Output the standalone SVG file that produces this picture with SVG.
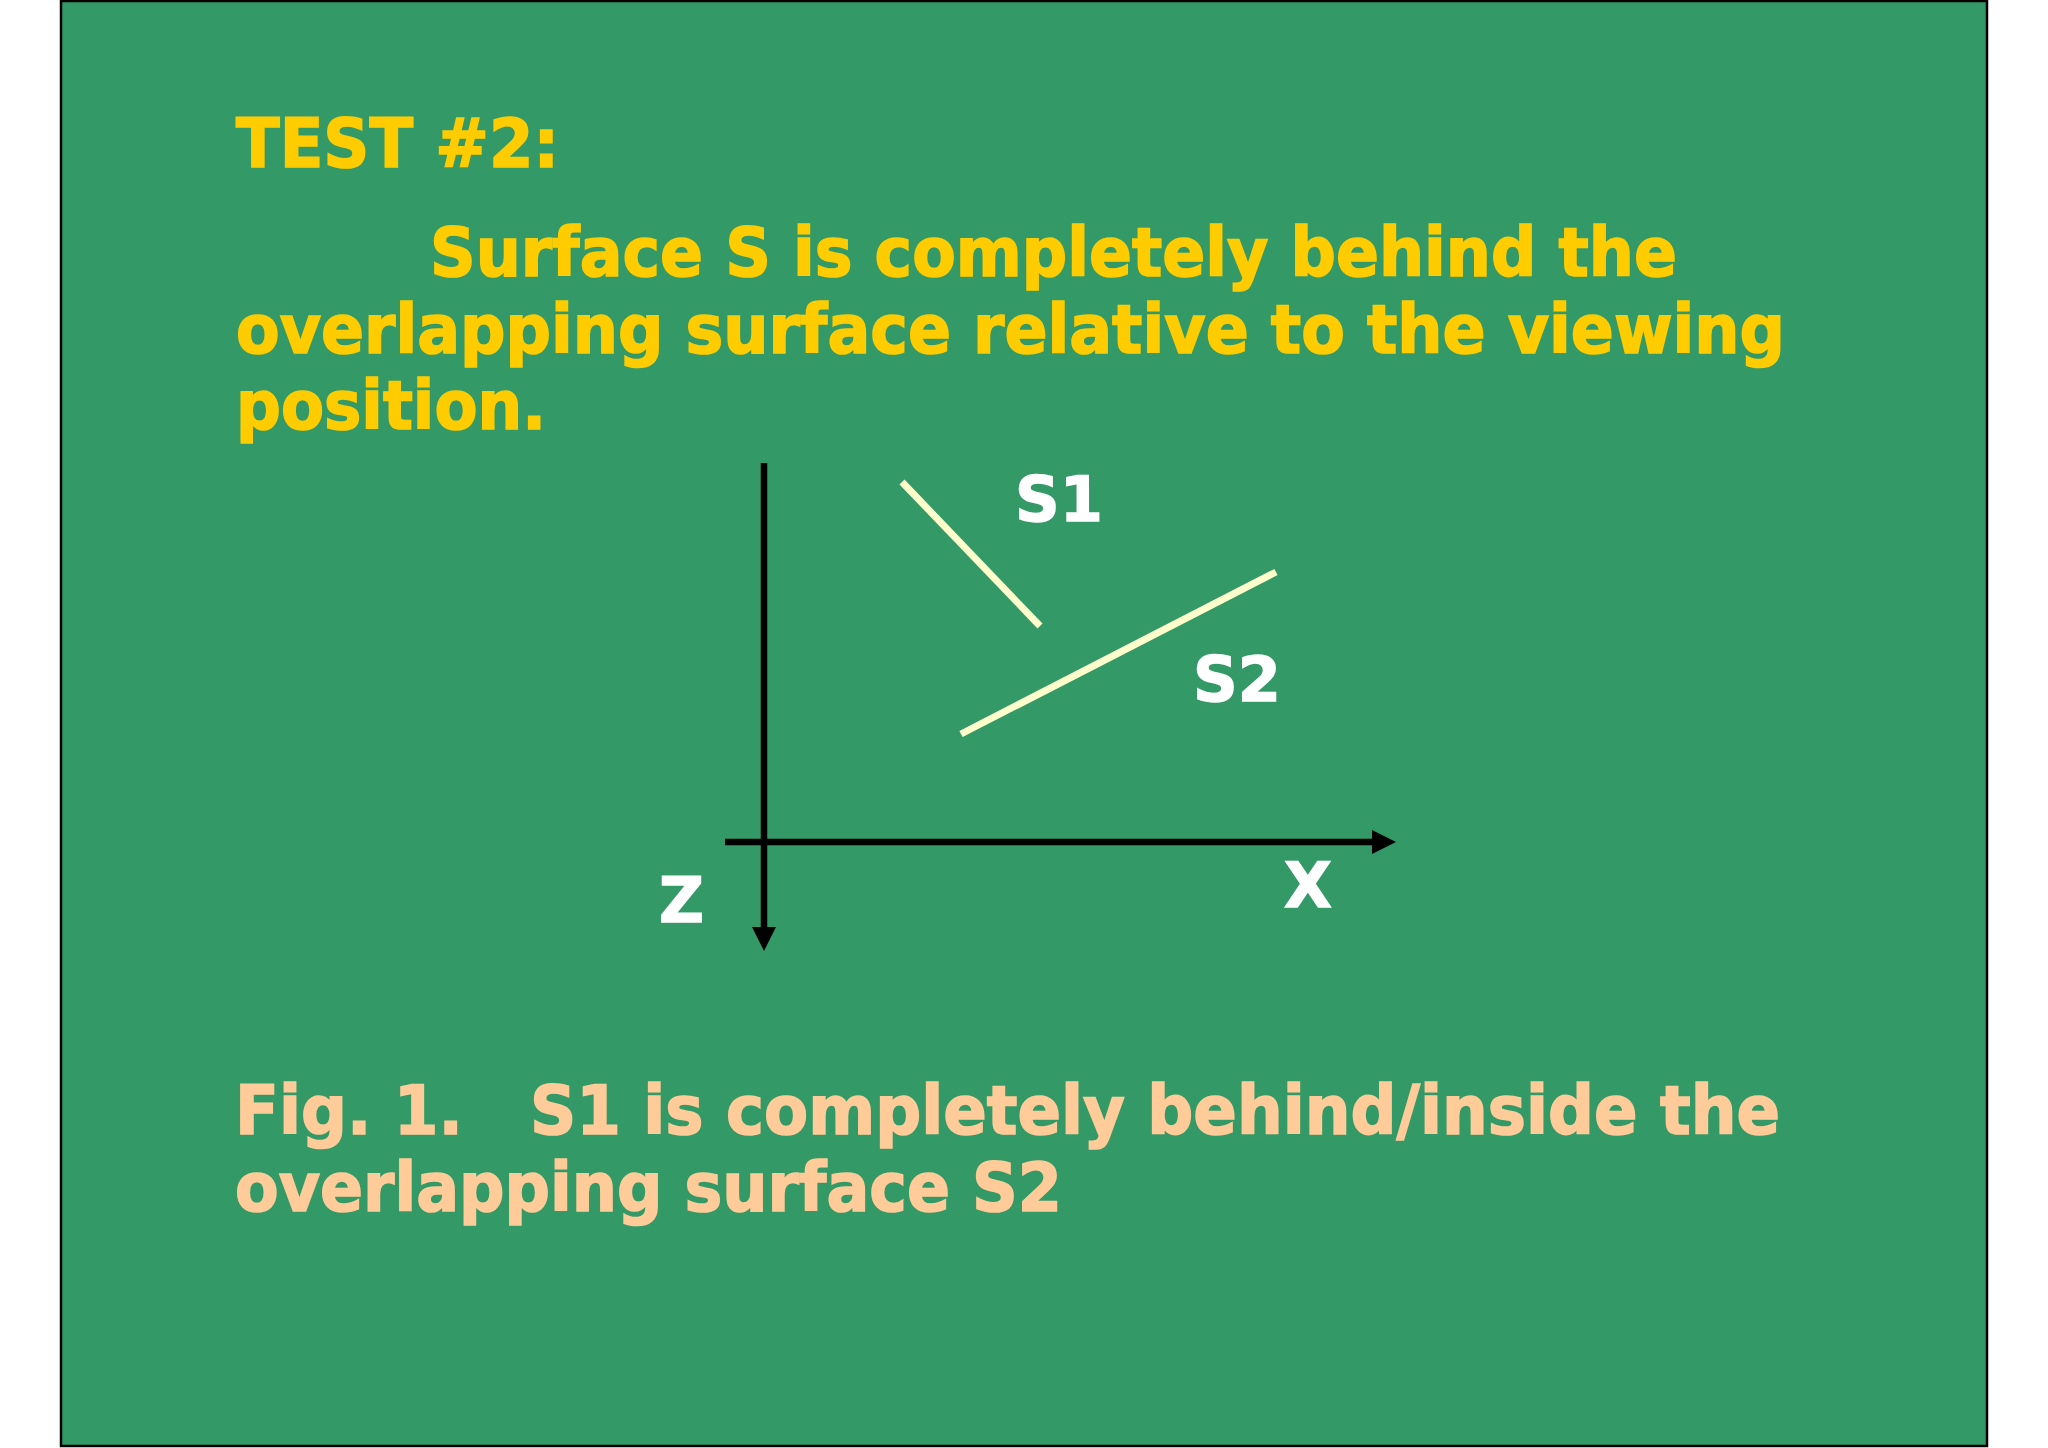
<svg xmlns="http://www.w3.org/2000/svg" width="2048" height="1448" viewBox="0 0 2048 1448">
<style>
.h{font-family:"DejaVu Sans","Verdana",sans-serif;font-weight:bold;font-size:67px;fill:#FFCC00;stroke:#FFCC00;stroke-width:1.6}
.c{font-family:"DejaVu Sans","Verdana",sans-serif;font-weight:bold;font-size:67px;fill:#FFCC99;stroke:#FFCC99;stroke-width:1.6}
.l{font-family:"DejaVu Sans","Verdana",sans-serif;font-weight:bold;font-size:62px;fill:#FFFFFF;stroke:#FFFFFF;stroke-width:1.4}
.ax{stroke:#000;stroke-width:6.5;fill:none}
.sf{stroke:#FFFFCC;stroke-width:7;fill:none}
</style>
<defs>
<marker id="ah" markerUnits="userSpaceOnUse" markerWidth="26" markerHeight="24" refX="0" refY="12" orient="auto" overflow="visible">
<path d="M0,0 L24,12 L0,24 Z" fill="#000"/>
</marker>
</defs>
<rect id="bg" x="61" y="1" width="1926" height="1445" fill="#339966" stroke="#000" stroke-width="2.5"/>
<g id="heading">
<text class="h" x="236" y="167" textLength="323" lengthAdjust="spacingAndGlyphs">TEST #2:</text>
<text class="h" x="430" y="276" textLength="1247" lengthAdjust="spacingAndGlyphs">Surface S is completely behind the</text>
<text class="h" x="236" y="353" textLength="1549" lengthAdjust="spacingAndGlyphs">overlapping surface relative to the viewing</text>
<text class="h" x="236" y="429" textLength="310" lengthAdjust="spacingAndGlyphs">position.</text>
</g>
<g id="connectors">
<line id="z-axis" class="ax" x1="764" y1="463" x2="764" y2="927" marker-end="url(#ah)"/>
<line id="x-axis" class="ax" x1="725" y1="842" x2="1372" y2="842" marker-end="url(#ah)"/>
</g>
<g id="S1">
<line class="sf" x1="902" y1="482" x2="1040" y2="626"/>
<text class="l" x="1015" y="521">S1</text>
</g>
<g id="S2">
<line class="sf" x1="961" y1="734" x2="1276" y2="572"/>
<text class="l" x="1193" y="701">S2</text>
</g>
<g id="labels">
<text class="l" x="659" y="922">Z</text>
<text class="l" x="1284" y="907">X</text>
</g>
<g id="caption">
<text class="c" x="235" y="1134" textLength="1545" lengthAdjust="spacingAndGlyphs" xml:space="preserve">Fig. 1.   S1 is completely behind/inside the</text>
<text class="c" x="235" y="1211" textLength="827" lengthAdjust="spacingAndGlyphs">overlapping surface S2</text>
</g>
</svg>
